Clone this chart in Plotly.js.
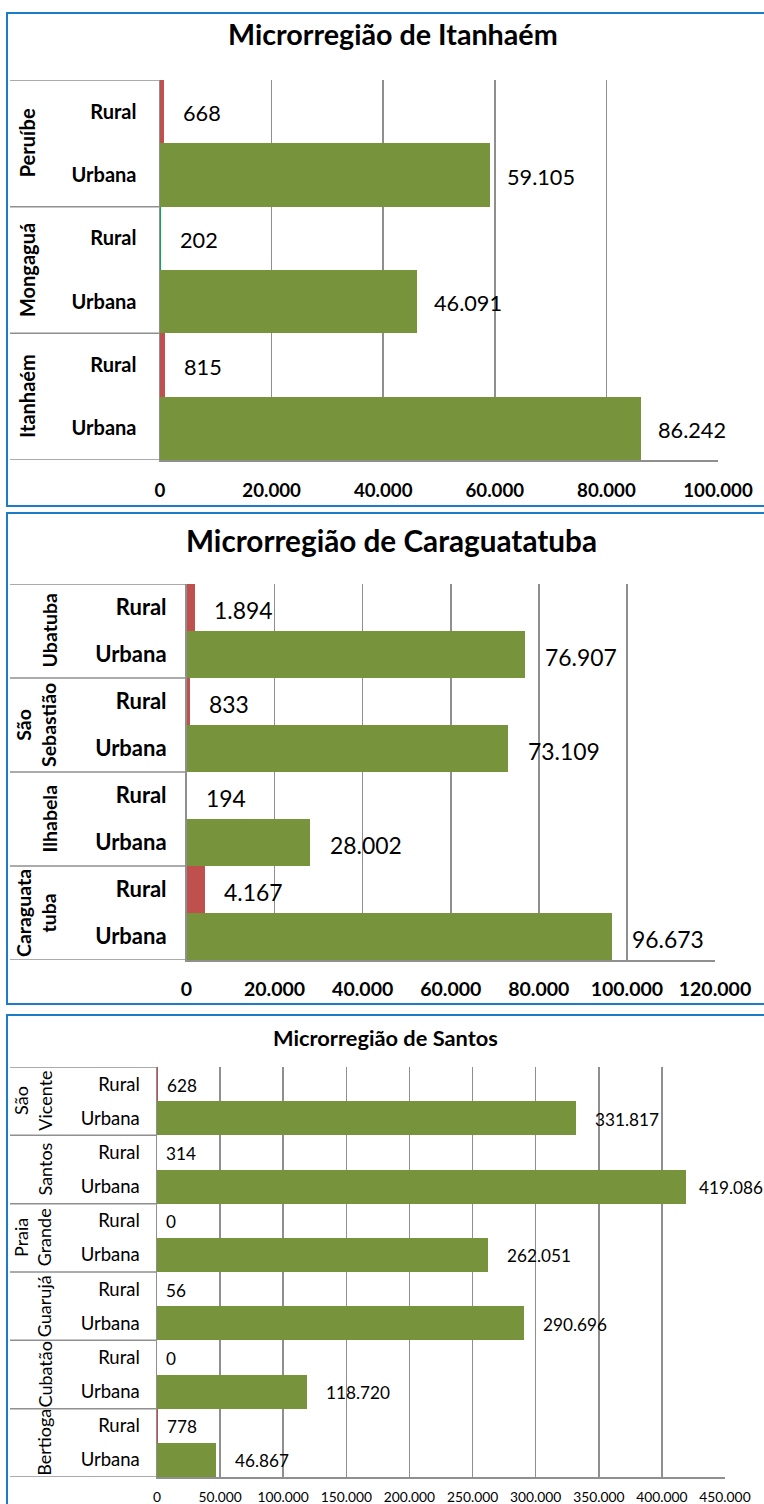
<!DOCTYPE html>
<html>
<head>
<meta charset="utf-8">
<script src="https://cdn.plot.ly/plotly-3.0.1.min.js"></script>
<style>html,body{margin:0;padding:0;background:#fff;}#chart{width:764px;height:1504px;}</style>
</head>
<body>
<div id="chart"></div>
<script>
// ---------- DATA ----------
const kinds = ['Rural', 'Urbana'];

const itaTitle = 'Microrregião de Itanhaém';
const itaGroups = ['Peruíbe', 'Mongaguá', 'Itanhaém'];
const itaRural = [668, 202, 815];
const itaUrbana = [59105, 46091, 86242];
const itaTicks = [0, 20000, 40000, 60000, 80000, 100000];

const carTitle = 'Microrregião de Caraguatatuba';
const carGroups = ['Ubatuba', 'São<br>Sebastião', 'Ilhabela', 'Caraguata<br>tuba'];
const carRural = [1894, 833, 194, 4167];
const carUrbana = [76907, 73109, 28002, 96673];
const carTicks = [0, 20000, 40000, 60000, 80000, 100000, 120000];

const stoTitle = 'Microrregião de Santos';
const stoGroups = ['São<br>Vicente', 'Santos', 'Praia<br>Grande', 'Guarujá', 'Cubatão', 'Bertioga'];
const stoRural = [628, 314, 0, 56, 0, 778];
const stoUrbana = [331817, 419086, 262051, 290696, 118720, 46867];
const stoTicks = [0, 50000, 100000, 150000, 200000, 250000, 300000, 350000, 400000, 450000];

// ---------- STYLE ----------
const W = 764, H = 1504;
const FONT = 'Lato, "Open Sans", sans-serif';
const GREEN = '#77933C', RED = '#C0504D', LGREEN = '#00B050';
const GRID = '#8f8f8f', BORDER = '#1C7CC8';
const px = v => v / W;
const py = v => 1 - v / H;
const fmt = n => String(n).replace(/\B(?=(\d{3})+(?!\d))/g, '.');
const estWidth = (s, size) => (s.replace(/\./g, '').length * 0.58 + (s.split('.').length - 1) * 0.25) * size;

const panels = [
  { title: itaTitle, groups: itaGroups, rural: itaRural, urbana: itaUrbana, ticks: itaTicks,
    ruralColors: [RED, LGREEN, RED],
    x0: 160, x1: 718, y0: 80, y1: 460, box: [13, 506], titleXY: [393, 34],
    titleSize: 28.7, tickSize: 18.7, tickBold: true, catSize: 20, catBold: true,
    grpSize: 20, grpBold: true, grpRight: 41, valSize: 21.7,
    shiftR: 17, shiftU: 15, yshift: -1.5, tickStand: 13, catStand: 18 },
  { title: carTitle, groups: carGroups, rural: carRural, urbana: carUrbana, ticks: carTicks,
    ruralColors: [RED, RED, LGREEN, RED],
    x0: 186.5, x1: 715, y0: 584, y1: 960, box: [513, 1004], titleXY: [391, 540],
    titleSize: 29.7, tickSize: 19.5, tickBold: true, catSize: 22, catBold: true,
    grpSize: 19.5, grpBold: true, grpRight: 62, valSize: 22.9,
    shiftR: 17, shiftU: 18, yshift: -2, tickStand: 11, catStand: 14 },
  { title: stoTitle, groups: stoGroups, rural: stoRural, urbana: stoUrbana, ticks: stoTicks,
    ruralColors: [RED, RED, RED, RED, RED, RED],
    x0: 157, x1: 725, y0: 1067, y1: 1477, box: [1015, 1540], titleXY: [386, 1037],
    titleSize: 21.8, tickSize: 13.8, tickBold: false, catSize: 18.5, catBold: false,
    grpSize: 18, grpBold: false, grpRight: 57, valSize: 17.2,
    shiftR: 7, shiftU: 17, yshift: -1, tickStand: 7, catStand: 12 }
];

const data = [];
const layout = {
  width: W, height: H,
  margin: { l: 0, r: 0, t: 0, b: 0 },
  paper_bgcolor: '#fff', plot_bgcolor: 'rgba(0,0,0,0)',
  showlegend: false,
  barmode: 'overlay', bargap: 0,
  separators: ',.',
  font: { family: FONT, color: '#000' },
  annotations: [], shapes: []
};

panels.forEach((p, i) => {
  const n = i === 0 ? '' : String(i + 1);
  const xa = 'x' + n, ya = 'y' + n;
  const xmax = p.ticks[p.ticks.length - 1];
  const ids = [];
  p.groups.forEach(g => kinds.forEach(k => ids.push(g + '|' + k)));
  const ruralIds = p.groups.map(g => g + '|' + kinds[0]);
  const urbIds = p.groups.map(g => g + '|' + kinds[1]);

  data.push({ type: 'bar', orientation: 'h', x: p.rural, y: ruralIds, xaxis: xa, yaxis: ya,
    marker: { color: p.ruralColors, line: { width: 0 } }, hoverinfo: 'skip' });
  data.push({ type: 'bar', orientation: 'h', x: p.urbana, y: urbIds, xaxis: xa, yaxis: ya,
    marker: { color: GREEN, line: { width: 0 } }, hoverinfo: 'skip' });

  layout['xaxis' + n] = {
    domain: [px(p.x0), px(p.x1)], anchor: ya,
    range: [0, xmax], tickvals: p.ticks, tickformat: ',d',
    showgrid: true, gridcolor: GRID, gridwidth: 1.5, zeroline: false,
    showline: true, linecolor: GRID, linewidth: 1.5, ticks: '',
    ticklabelstandoff: p.tickStand,
    tickfont: { family: FONT, size: p.tickSize, weight: p.tickBold ? 'bold' : 'normal', color: '#000' },
    fixedrange: true
  };
  layout['yaxis' + n] = {
    domain: [py(p.y1), py(p.y0)], anchor: xa,
    type: 'category', categoryorder: 'array', categoryarray: ids,
    range: [ids.length - 0.5, -0.5],
    tickvals: ids, ticktext: ids.map(s => s.split('|')[1]),
    showgrid: false, zeroline: false, showline: true, linecolor: GRID, linewidth: 1.5, ticks: '',
    ticklabelstandoff: p.catStand,
    tickfont: { family: FONT, size: p.catSize, weight: p.catBold ? 'bold' : 'normal', color: '#000' },
    fixedrange: true
  };

  // panel border
  layout.shapes.push({ type: 'rect', xref: 'paper', yref: 'paper',
    x0: px(7), x1: px(800), y0: py(p.box[1]), y1: py(p.box[0]),
    line: { color: BORDER, width: 2 }, fillcolor: 'rgba(0,0,0,0)' });

  // group dividers in the label area
  for (let g = 0; g <= p.groups.length; g++) {
    layout.shapes.push({ type: 'line', xref: 'paper', yref: ya,
      x0: px(10), x1: px(p.x0), y0: 2 * g - 0.5, y1: 2 * g - 0.5,
      line: { color: GRID, width: 1.5 } });
  }

  // title
  layout.annotations.push({ xref: 'paper', yref: 'paper', x: px(p.titleXY[0]), y: py(p.titleXY[1]),
    xanchor: 'center', yanchor: 'middle', showarrow: false, text: p.title,
    font: { family: FONT, size: p.titleSize, weight: 'bold', color: '#000' } });

  // group labels (rotated)
  p.groups.forEach((g, gi) => {
    layout.annotations.push({ xref: 'paper', yref: ya, x: px(p.grpRight), y: 2 * gi + 0.5,
      xanchor: 'right', yanchor: 'middle', showarrow: false, text: g, textangle: -90,
      align: 'center',
      font: { family: FONT, size: p.grpSize, weight: p.grpBold ? 'bold' : 'normal', color: '#000' } });
  });

  // value labels (kept inside the page, as the original does for the longest bar)
  const addVal = (v, id, shift) => {
    const txt = fmt(v);
    const endPx = p.x0 + (v / xmax) * (p.x1 - p.x0);
    const room = W - 3 - endPx - estWidth(txt, p.valSize);
    layout.annotations.push({ xref: xa, yref: ya, x: v, y: id,
      xanchor: 'left', yanchor: 'middle', xshift: Math.max(0, Math.min(shift, room)), yshift: p.yshift,
      showarrow: false, text: txt, font: { family: FONT, size: p.valSize, color: '#000' } });
  };
  p.rural.forEach((v, gi) => addVal(v, ruralIds[gi], p.shiftR));
  p.urbana.forEach((v, gi) => addVal(v, urbIds[gi], p.shiftU));
});

Plotly.newPlot('chart', data, layout, { staticPlot: true, displayModeBar: false });
</script>
</body>
</html>
